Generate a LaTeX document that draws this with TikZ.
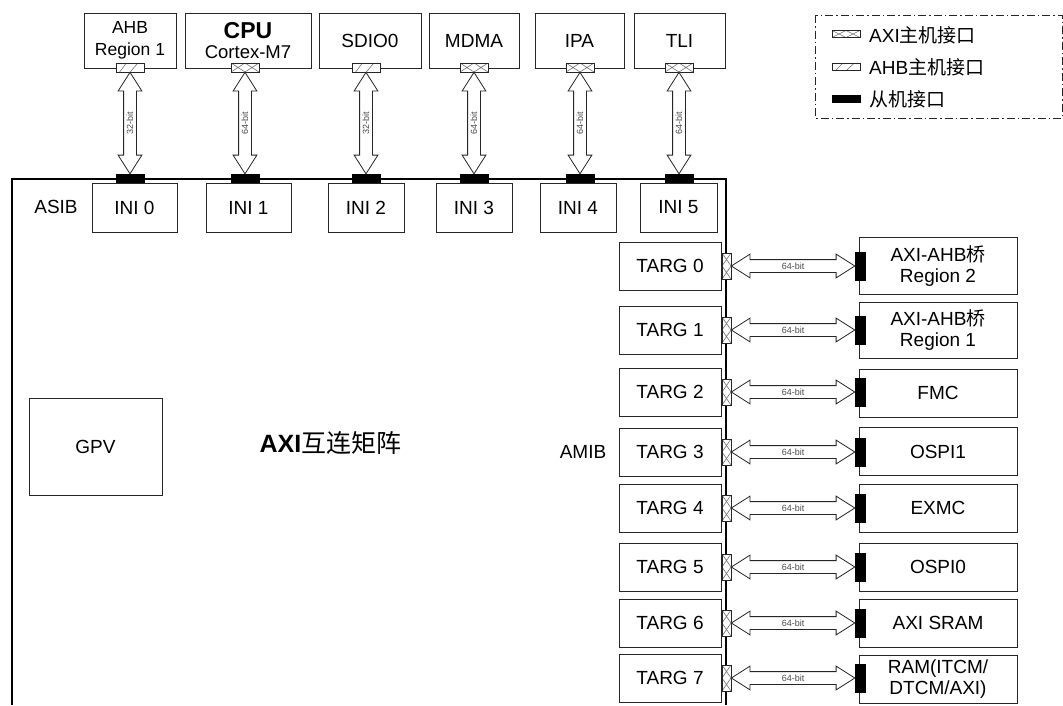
\documentclass[tikz,border=0pt]{standalone}
\usepackage{fontspec}
\setmainfont{Liberation Sans}
\newfontfamily\cjk{Noto Sans CJK SC}
\usepackage{tikz}
\usetikzlibrary{shapes, arrows, positioning, calc}

% double bus arrow between two named points
\newcommand{\busline}[5]{%
  \path let \p1=(#2), \p2=(#3), \n1={veclen(\x2-\x1,\y2-\y1)} in
    node[bus, minimum height=\n1, rotate=#4] (#1) at ($(\p1)!0.5!(\p2)$) {#5};}

\begin{document}
\begin{tikzpicture}[x=1pt, y=-1pt,
  box/.style={draw=black!85, line width=0.8pt, inner sep=0pt, align=center, font=\fontsize{19}{21}\selectfont},
  topbox/.style={box, minimum height=55pt, font=\fontsize{17.5}{22}\selectfont},
  ini/.style={box, minimum height=49pt},
  targ/.style={box, minimum width=102pt, minimum height=48pt},
  dev/.style={box, minimum width=158pt, minimum height=48pt},
  sport/.style={draw=black, fill=black, inner sep=0pt},
  hxport/.style={draw=black!85, fill=white, line width=0.7pt, inner sep=0pt,
    path picture={\draw[black!55, line width=0.6pt]
      (path picture bounding box.north west) -- (path picture bounding box.south) -- (path picture bounding box.north east)
      (path picture bounding box.south west) -- (path picture bounding box.north) -- (path picture bounding box.south east);}},
  vxport/.style={draw=black!85, fill=white, line width=0.7pt, inner sep=0pt, minimum width=9pt, minimum height=26pt,
    path picture={\draw[black!55, line width=0.6pt]
      (path picture bounding box.north west) -- (path picture bounding box.east) -- (path picture bounding box.south west)
      (path picture bounding box.north east) -- (path picture bounding box.west) -- (path picture bounding box.south east);}},
  hbport/.style={draw=black!85, fill=white, line width=0.7pt, inner sep=0pt,
    path picture={\coordinate (pa) at (path picture bounding box.south west);
      \coordinate (pb) at (path picture bounding box.north east);
      \draw[black!55, line width=0.6pt] ($(pa)!0.13!(pa-|pb)$) -- ($(pa|-pb)!0.37!(pb)$)
        ($(pa)!0.51!(pa-|pb)$) -- ($(pa|-pb)!0.78!(pb)$);}},
  bus/.style={double arrow, draw=black!85, fill=white, line width=0.8pt, inner xsep=0pt, inner ysep=3pt,
    minimum width=23pt, text height=6pt, text depth=0pt, double arrow head extend=5.5pt, double arrow tip angle=65,
    font=\fontsize{9}{9}\selectfont, text=black!70},
  lbl/.style={font=\fontsize{19}{21}\selectfont}]
  \useasboundingbox (0,0) rectangle (1063,705);

  % interconnect frame
  \draw[line width=2.5pt] (12,705) -- (12,179) -- (726,179) -- (726,705);
  \node[lbl] (asib) at (56,207) {ASIB};
  \node[lbl] (amib) at (583,452) {AMIB};
  \node[box, minimum width=133pt, minimum height=97pt] (gpv) at (95.5,446.5) {GPV};
  \node[anchor=west, font=\fontsize{25}{25}\selectfont] (title) at (256,443) {\textbf{AXI}{\cjk 互连矩阵}};

  % masters
  \node[topbox, minimum width=92pt] (ahb) at (130,40.5) {AHB\\Region 1};
  \node[topbox, minimum width=126pt] (cpu) at (248,40.5) {{\bfseries\fontsize{23}{23}\selectfont CPU}\\[-2pt]\fontsize{18.5}{18}\selectfont Cortex-M7};
  \node[topbox, minimum width=102pt, font=\fontsize{19}{21}\selectfont] (sdio) at (370,40.5) {SDIO0};
  \node[topbox, minimum width=90pt, font=\fontsize{19}{21}\selectfont] (mdma) at (474,40.5) {MDMA};
  \node[topbox, minimum width=89pt, font=\fontsize{19}{21}\selectfont] (ipa) at (579.5,40.5) {IPA};
  \node[topbox, minimum width=91pt, font=\fontsize{19}{21}\selectfont] (tli) at (679.5,40.5) {TLI};

  \node[hbport, minimum width=28pt, minimum height=9pt] (ahbp) at (130,67.5) {};
  \node[hxport, minimum width=28pt, minimum height=9pt] (cpup) at (245,67.5) {};
  \node[hbport, minimum width=28pt, minimum height=9pt] (sdiop) at (366,67.5) {};
  \node[hxport, minimum width=28pt, minimum height=9pt] (mdmap) at (474,67.5) {};
  \node[hxport, minimum width=28pt, minimum height=9pt] (ipap) at (580,67.5) {};
  \node[hxport, minimum width=28pt, minimum height=9pt] (tlip) at (679,67.5) {};

  % initiator side
  \node[sport, minimum width=28pt, minimum height=9pt] (ini0s) at (130,178.5) {};
  \node[sport, minimum width=28pt, minimum height=9pt] (ini1s) at (245,178.5) {};
  \node[sport, minimum width=28pt, minimum height=9pt] (ini2s) at (366,178.5) {};
  \node[sport, minimum width=28pt, minimum height=9pt] (ini3s) at (474,178.5) {};
  \node[sport, minimum width=28pt, minimum height=9pt] (ini4s) at (580,178.5) {};
  \node[sport, minimum width=28pt, minimum height=9pt] (ini5s) at (679,178.5) {};

  \node[ini, minimum width=85pt] (ini0) at (134.5,207.5) {INI 0};
  \node[ini, minimum width=85pt] (ini1) at (248.5,207.5) {INI 1};
  \node[ini, minimum width=76pt] (ini2) at (366,207.5) {INI 2};
  \node[ini, minimum width=76pt] (ini3) at (474,207.5) {INI 3};
  \node[ini, minimum width=76pt] (ini4) at (578,207.5) {INI 4};
  \node[ini, minimum width=77pt] (ini5) at (678.5,207.5) {INI 5};

  \busline{bus0}{ini0s.north}{ahbp.south}{90}{32-bit}
  \busline{bus1}{ini1s.north}{cpup.south}{90}{64-bit}
  \busline{bus2}{ini2s.north}{sdiop.south}{90}{32-bit}
  \busline{bus3}{ini3s.north}{mdmap.south}{90}{64-bit}
  \busline{bus4}{ini4s.north}{ipap.south}{90}{64-bit}
  \busline{bus5}{ini5s.north}{tlip.south}{90}{64-bit}

  % target side
  \node[targ] (targ0) at (670,266) {TARG 0};
  \node[targ] (targ1) at (670,330) {TARG 1};
  \node[targ] (targ2) at (670,392) {TARG 2};
  \node[targ] (targ3) at (670,452) {TARG 3};
  \node[targ] (targ4) at (670,508) {TARG 4};
  \node[targ] (targ5) at (670,567) {TARG 5};
  \node[targ] (targ6) at (670,623) {TARG 6};
  \node[targ] (targ7) at (670,678) {TARG 7};

  \node[vxport] (t0p) at (726.5,266) {};
  \node[vxport] (t1p) at (726.5,330) {};
  \node[vxport] (t2p) at (726.5,392) {};
  \node[vxport] (t3p) at (726.5,452) {};
  \node[vxport] (t4p) at (726.5,508) {};
  \node[vxport] (t5p) at (726.5,567) {};
  \node[vxport] (t6p) at (726.5,623) {};
  \node[vxport] (t7p) at (726.5,678) {};

  % slaves
  \node[dev, minimum height=57pt] (brg2) at (938,265.5) {AXI-AHB{\cjk 桥}\\Region 2};
  \node[dev, minimum height=56pt] (brg1) at (938,330) {AXI-AHB{\cjk 桥}\\Region 1};
  \node[dev] (fmc) at (938,393) {FMC};
  \node[dev] (ospi1) at (938,451.5) {OSPI1};
  \node[dev] (exmc) at (938,508) {EXMC};
  \node[dev] (ospi0) at (938,567) {OSPI0};
  \node[dev] (sram) at (938,623) {AXI SRAM};
  \node[dev] (ram) at (938,679) {RAM(ITCM/\\DTCM/AXI)};

  \node[sport, minimum width=10pt, minimum height=28pt] (t0s) at (860,266) {};
  \node[sport, minimum width=10pt, minimum height=28pt] (t1s) at (860,330) {};
  \node[sport, minimum width=10pt, minimum height=28pt] (t2s) at (860,392) {};
  \node[sport, minimum width=10pt, minimum height=28pt] (t3s) at (860,452) {};
  \node[sport, minimum width=10pt, minimum height=28pt] (t4s) at (860,508) {};
  \node[sport, minimum width=10pt, minimum height=28pt] (t5s) at (860,567) {};
  \node[sport, minimum width=10pt, minimum height=28pt] (t6s) at (860,623) {};
  \node[sport, minimum width=10pt, minimum height=28pt] (t7s) at (860,678) {};

  \busline{tbus0}{t0p.east}{t0s.west}{0}{64-bit}
  \busline{tbus1}{t1p.east}{t1s.west}{0}{64-bit}
  \busline{tbus2}{t2p.east}{t2s.west}{0}{64-bit}
  \busline{tbus3}{t3p.east}{t3s.west}{0}{64-bit}
  \busline{tbus4}{t4p.east}{t4s.west}{0}{64-bit}
  \busline{tbus5}{t5p.east}{t5s.west}{0}{64-bit}
  \busline{tbus6}{t6p.east}{t6s.west}{0}{64-bit}
  \busline{tbus7}{t7p.east}{t7s.west}{0}{64-bit}

  % legend
  \draw[black!85, line width=0.8pt, dash pattern=on 8pt off 3pt on 1.5pt off 3pt] (815,15) rectangle (1062,118);
  \node[hxport, minimum width=28pt, minimum height=7pt] (lgx) at (846,34) {};
  \node[hbport, minimum width=28pt, minimum height=7pt] (lgh) at (846,67) {};
  \node[sport, minimum width=28pt, minimum height=7pt] (lgs) at (846,99) {};
  \node[lbl, anchor=west, inner sep=0pt] (lgxt) at (869,35) {AXI{\cjk 主机接口}};
  \node[lbl, anchor=west, inner sep=0pt] (lght) at (869,67) {AHB{\cjk 主机接口}};
  \node[lbl, anchor=west, inner sep=0pt] (lgst) at (869,99) {{\cjk 从机接口}};
\end{tikzpicture}
\end{document}
